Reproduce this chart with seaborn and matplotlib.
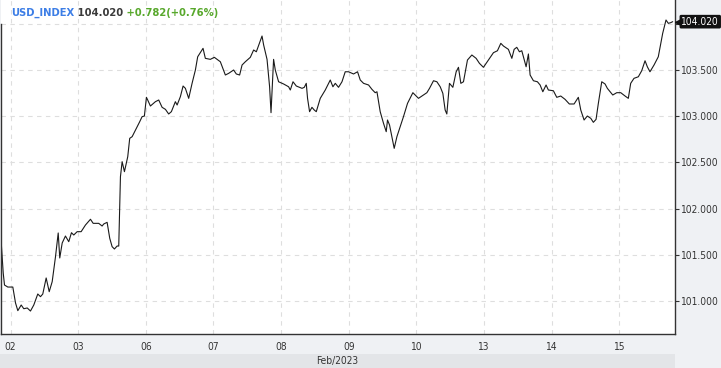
import matplotlib
matplotlib.use("Agg")
import matplotlib.pyplot as plt
import matplotlib.transforms as mtransforms
from matplotlib.patches import Rectangle
import numpy as np
import pandas as pd
import seaborn as sns

# ---- data -------------------------------------------------------------
# trading-day index (0 = Feb 02 ... 9 = Feb 15), fractional for intraday
t = [-0.140, -0.108, -0.089, -0.040, 0.034, 0.074, 0.108, 0.158, 0.196, 0.247,
     0.295, 0.344, 0.403, 0.443, 0.477, 0.527, 0.572, 0.616, 0.665, 0.705,
     0.728, 0.764, 0.812, 0.861, 0.901, 0.935, 0.985, 1.044, 1.108, 1.182,
     1.222, 1.304, 1.354, 1.378, 1.428, 1.467, 1.502, 1.536, 1.576, 1.600,
     1.625, 1.650, 1.684, 1.733, 1.762, 1.798, 1.861, 1.910, 1.945, 1.979,
     2.009, 2.028, 2.068, 2.142, 2.191, 2.241, 2.290, 2.338, 2.378, 2.437,
     2.463, 2.511, 2.551, 2.585, 2.634, 2.684, 2.733, 2.767, 2.846, 2.880,
     2.954, 3.013, 3.102, 3.176, 3.225, 3.298, 3.338, 3.387, 3.423, 3.471,
     3.545, 3.594, 3.634, 3.718, 3.742, 3.792, 3.830, 3.851, 3.870, 3.889,
     3.914, 3.963, 4.037, 4.111, 4.136, 4.176, 4.225, 4.309, 4.343, 4.372,
     4.391, 4.421, 4.456, 4.490, 4.520, 4.579, 4.653, 4.727, 4.766, 4.801,
     4.849, 4.900, 4.948, 4.997, 5.071, 5.130, 5.170, 5.219, 5.293, 5.343,
     5.391, 5.417, 5.465, 5.514, 5.554, 5.573, 5.603, 5.623, 5.672, 5.712,
     5.761, 5.809, 5.869, 5.948, 5.982, 6.031, 6.105, 6.155, 6.194, 6.253,
     6.303, 6.352, 6.391, 6.425, 6.450, 6.489, 6.539, 6.588, 6.622, 6.657,
     6.696, 6.755, 6.820, 6.883, 6.932, 6.991, 7.065, 7.139, 7.198, 7.248,
     7.287, 7.360, 7.411, 7.445, 7.484, 7.523, 7.558, 7.582, 7.622, 7.656,
     7.681, 7.730, 7.789, 7.829, 7.869, 7.917, 7.951, 8.025, 8.075, 8.134,
     8.198, 8.261, 8.331, 8.394, 8.430, 8.479, 8.527, 8.578, 8.616, 8.656,
     8.690, 8.740, 8.789, 8.823, 8.903, 8.962, 9.021, 9.085, 9.133, 9.168,
     9.217, 9.281, 9.331, 9.380, 9.414, 9.453, 9.513, 9.576, 9.641, 9.690,
     9.724, 9.759, 9.789]

price = [101.662, 101.306, 101.176, 101.154, 101.154, 100.982, 100.899, 100.960, 100.920, 100.928,
         100.895, 100.960, 101.079, 101.050, 101.079, 101.252, 101.104, 101.212, 101.482, 101.738,
         101.468, 101.630, 101.705, 101.644, 101.741, 101.716, 101.752, 101.752, 101.824, 101.886,
         101.842, 101.842, 101.813, 101.835, 101.853, 101.680, 101.590, 101.565, 101.597, 101.597,
         102.346, 102.508, 102.400, 102.562, 102.760, 102.778, 102.868, 102.940, 102.994, 103.001,
         103.203, 103.174, 103.109, 103.156, 103.174, 103.095, 103.073, 103.023, 103.048, 103.156,
         103.120, 103.210, 103.325, 103.300, 103.192, 103.354, 103.498, 103.641, 103.732, 103.624,
         103.613, 103.635, 103.587, 103.444, 103.462, 103.498, 103.455, 103.444, 103.552, 103.587,
         103.635, 103.714, 103.695, 103.865, 103.768, 103.613, 103.317, 103.037, 103.317, 103.613,
         103.498, 103.371, 103.347, 103.317, 103.282, 103.371, 103.325, 103.300, 103.311, 103.354,
         103.192, 103.048, 103.095, 103.066, 103.048, 103.192, 103.282, 103.390, 103.317, 103.354,
         103.311, 103.371, 103.479, 103.479, 103.455, 103.479, 103.390, 103.354, 103.336, 103.289,
         103.253, 103.263, 103.048, 102.922, 102.832, 102.958, 102.904, 102.832, 102.652, 102.778,
         102.886, 102.994, 103.138, 103.253, 103.228, 103.192, 103.228, 103.253, 103.300, 103.382,
         103.371, 103.317, 103.246, 103.066, 103.023, 103.354, 103.311, 103.479, 103.527, 103.354,
         103.371, 103.606, 103.660, 103.624, 103.570, 103.527, 103.606, 103.685, 103.706, 103.786,
         103.757, 103.721, 103.624, 103.721, 103.743, 103.695, 103.706, 103.641, 103.533, 103.671,
         103.444, 103.382, 103.371, 103.336, 103.263, 103.336, 103.282, 103.274, 103.203, 103.217,
         103.181, 103.131, 103.131, 103.203, 103.066, 102.958, 103.001, 102.976, 102.933, 102.965,
         103.138, 103.371, 103.347, 103.300, 103.228, 103.253, 103.253, 103.217, 103.192, 103.354,
         103.408, 103.425, 103.490, 103.598, 103.533, 103.479, 103.552, 103.641, 103.894, 104.038,
         104.002, 104.009, 104.020]

day_labels = ["02", "03", "06", "07", "08", "09", "10", "13", "14", "15"]
y_ticks = [101.0, 101.5, 102.0, 102.5, 103.0, 103.5, 104.0]
symbol = "USD_INDEX"
last_value = 104.020
change = 0.782
change_pct = 0.76
month_label = "Feb/2023"

# ---- style ------------------------------------------------------------
sns.set_style("white")
plt.rcParams["font.family"] = ["DejaVu Sans"]

BG = "#eff1f4"
BAND = "#e3e5e8"
TXT = "#333333"
cond = dict(fontstretch="condensed")

fig = plt.figure(figsize=(7.21, 3.68), dpi=100, facecolor=BG)
ax = fig.add_axes([0.0007, 0.0924, 0.9355, 0.9076])
ax.set_facecolor("white")

df = pd.DataFrame({"t": t, "price": price})
sns.lineplot(data=df, x="t", y="price", color="#1a1a1a", linewidth=0.8, ax=ax)

ax.set_xlim(-0.148, 9.823)
ax.set_ylim(100.647, 104.254)

ax.set_xticks(range(len(day_labels)))
ax.set_xticklabels(day_labels, **cond)
ax.set_yticks(y_ticks)
ax.set_yticklabels([f"{v:.3f}" if v < 104 else "" for v in y_ticks], **cond)
ax.yaxis.tick_right()
ax.set_xlabel("")
ax.set_ylabel("")
ax.tick_params(axis="both", direction="out", length=3, width=0.8, colors=TXT,
               labelsize=7.3, pad=1.5)
ax.tick_params(axis="x", pad=2.5)

ax.grid(True, color="#dedede", linestyle=(0, (4, 4)), linewidth=0.8)
ax.set_axisbelow(True)

for side in ["left", "right", "bottom"]:
    ax.spines[side].set_visible(True)
    ax.spines[side].set_color("#333333")
    ax.spines[side].set_linewidth(1.0)
ax.spines["top"].set_visible(False)
ax.spines["left"].set_bounds(100.647, 104.0)

# last value marker on right axis
blend = mtransforms.blended_transform_factory(ax.transAxes, ax.transData)
tri_tr = mtransforms.offset_copy(blend, fig=fig, x=2.6, y=0, units="points")
ax.plot([1.0], [last_value], marker="<", markersize=6, color="#111111",
        transform=tri_tr, clip_on=False, zorder=5)
ax.annotate(f"{last_value:.3f}", xy=(1.0, last_value), xycoords=blend,
            xytext=(4.6, 0), textcoords="offset points", ha="left", va="center",
            color="white", fontsize=7.3, fontstretch="condensed",
            bbox=dict(boxstyle="round,pad=0.18,rounding_size=0.15", fc="#111111", ec="none"),
            annotation_clip=False, zorder=6)

# header text
t1 = fig.text(11 / 721, 1 - 15.5 / 368, symbol, color="#3d7ee6", fontsize=7.2,
              fontweight="bold", ha="left", va="baseline")
t2 = fig.text(0, 0, f" {last_value:.3f}", color="#3a3a3a", fontsize=7.2, fontweight="bold",
              ha="left", va="baseline")
t3 = fig.text(0, 0, f" +{change:.3f}(+{change_pct:.2f}%)", color="#58a82c", fontsize=7.2,
              fontweight="bold", ha="left", va="baseline")
fig.canvas.draw()
r = fig.canvas.get_renderer()
bb1 = t1.get_window_extent(r)
t2.set_position((bb1.x1 / fig.bbox.width, t1.get_position()[1]))
fig.canvas.draw()
bb2 = t2.get_window_extent(r)
t3.set_position((bb2.x1 / fig.bbox.width, t1.get_position()[1]))

# bottom month band
fig.patches.append(Rectangle((0, 0), 675 / 721, 14.5 / 368, transform=fig.transFigure,
                             facecolor=BAND, edgecolor="none", zorder=0))
fig.text(337 / 721, 7 / 368, month_label, ha="center", va="center", color=TXT,
         fontsize=7.3, fontstretch="condensed")

fig.savefig("out.png", dpi=100, facecolor=fig.get_facecolor())
